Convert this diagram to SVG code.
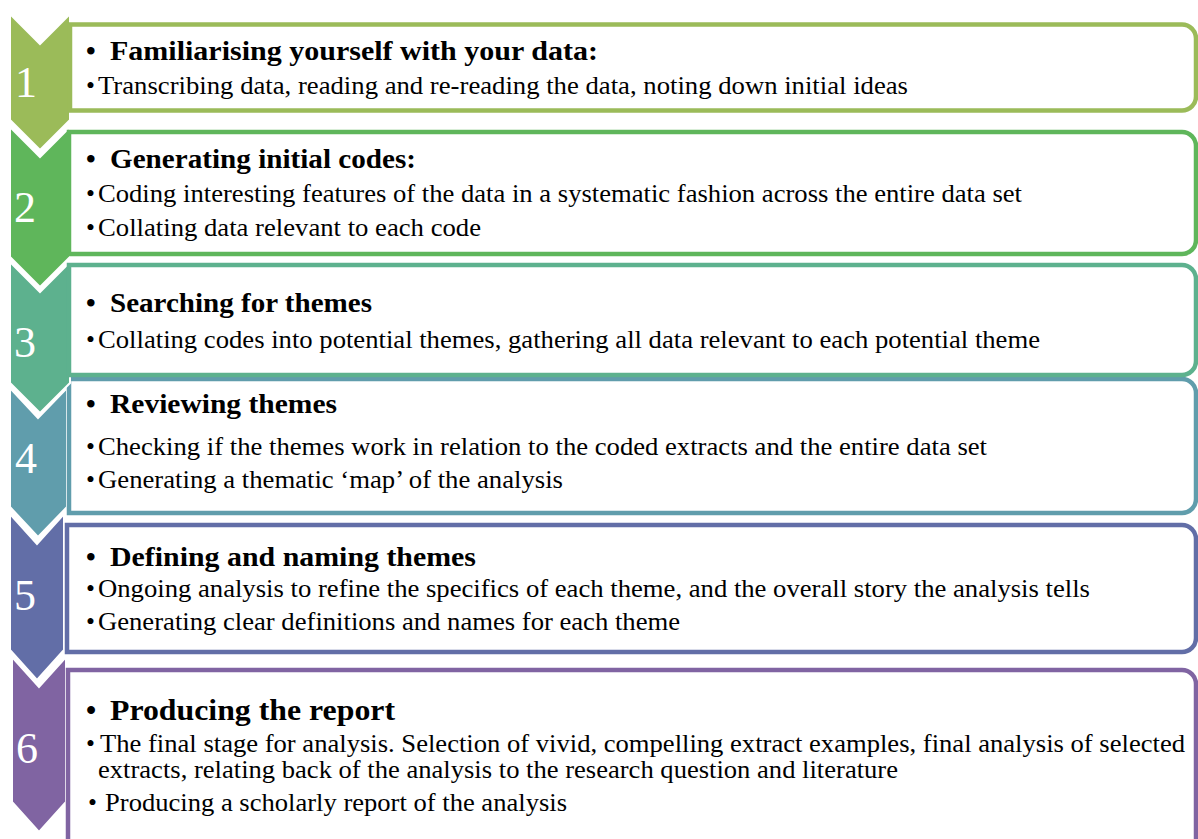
<svg xmlns="http://www.w3.org/2000/svg" width="1198" height="839" viewBox="0 0 1198 839">
  <style>
    .chev { stroke: #ffffff; stroke-width: 2; stroke-linejoin: miter; }
    .box { fill: #ffffff; stroke-width: 4.5; }
    .num { font-family: "Liberation Serif", "Times New Roman", serif; font-size: 44px; fill: #ffffff; text-anchor: middle; }
    .hd { font-family: "Liberation Serif", "Times New Roman", serif; font-size: 27.5px; font-weight: bold; fill: #000000; }
    .hd6 { font-size: 29px; }
    .bd { font-family: "Liberation Serif", "Times New Roman", serif; font-size: 25.5px; fill: #000000; }
    .c1 { fill: #9BBB59; } .s1 { stroke: #9BBB59; }
    .c2 { fill: #5FB65B; } .s2 { stroke: #5FB65B; }
    .c3 { fill: #5DB18E; } .s3 { stroke: #5DB18E; }
    .c4 { fill: #609DAC; } .s4 { stroke: #609DAC; }
    .c5 { fill: #626EA7; } .s5 { stroke: #626EA7; }
    .c6 { fill: #8064A2; } .s6 { stroke: #8064A2; }
  </style>

  <!-- Step 6 (drawn first so earlier chevrons sit on top) -->
  <g id="step6">
    <path class="chev c6" d="M12,657 L39,687 L66,657 L66,802 L39,832 L12,802 Z"/>
    <path class="box s6" d="M68,670 H1182 A14,14 0 0 1 1196,684 V870 H68 Z"/>
    <text class="num" x="27" y="763">6</text>
    <text class="hd hd6" x="86" y="720">•</text>
    <text class="hd hd6" x="110" y="720" textLength="285" lengthAdjust="spacingAndGlyphs">Producing the report</text>
    <text class="bd" x="86" y="752">•</text>
    <text class="bd" x="100" y="752" textLength="1085" lengthAdjust="spacingAndGlyphs">The final stage for analysis. Selection of vivid, compelling extract examples, final analysis of selected</text>
    <text class="bd" x="98" y="778" textLength="800" lengthAdjust="spacingAndGlyphs">extracts, relating back of the analysis to the research question and literature</text>
    <text class="bd" x="88" y="811">•</text>
    <text class="bd" x="105" y="811" textLength="462" lengthAdjust="spacingAndGlyphs">Producing a scholarly report of the analysis</text>
  </g>

  <g id="step5">
    <path class="chev c5" d="M10,514 L37,544 L64,514 L64,650 L37,680 L10,650 Z"/>
    <path class="box s5" d="M67,525 H1182 A14,14 0 0 1 1196,539 V638 A14,14 0 0 1 1182,652 H67 Z"/>
    <text class="num" x="25" y="610">5</text>
    <text class="hd" x="86" y="566">•</text>
    <text class="hd" x="110" y="566" textLength="366" lengthAdjust="spacingAndGlyphs">Defining and naming themes</text>
    <text class="bd" x="86" y="597">•</text>
    <text class="bd" x="98" y="597" textLength="992" lengthAdjust="spacingAndGlyphs">Ongoing analysis to refine the specifics of each theme, and the overall story the analysis tells</text>
    <text class="bd" x="86" y="630">•</text>
    <text class="bd" x="98" y="630" textLength="582" lengthAdjust="spacingAndGlyphs">Generating clear definitions and names for each theme</text>
  </g>

  <g id="step4">
    <path class="chev c4" d="M10,388 L38,418 L67,388 L67,507 L38,537 L10,507 Z"/>
    <path class="box s4" d="M69,379 H1182 A14,14 0 0 1 1196,393 V499 A14,14 0 0 1 1182,513 H69 Z"/>
    <text class="num" x="26" y="473">4</text>
    <text class="hd" x="86" y="413">•</text>
    <text class="hd" x="110" y="413" textLength="227" lengthAdjust="spacingAndGlyphs">Reviewing themes</text>
    <text class="bd" x="86" y="455">•</text>
    <text class="bd" x="98" y="455" textLength="889" lengthAdjust="spacingAndGlyphs">Checking if the themes work in relation to the coded extracts and the entire data set</text>
    <text class="bd" x="86" y="488">•</text>
    <text class="bd" x="98" y="488" textLength="465" lengthAdjust="spacingAndGlyphs">Generating a thematic ‘map’ of the analysis</text>
  </g>

  <g id="step3">
    <path class="chev c3" d="M10,262 L40,292 L70,262 L70,383 L40,413 L10,383 Z"/>
    <path class="box s3" d="M69,265 H1182 A14,14 0 0 1 1196,279 V361 A14,14 0 0 1 1182,375 H69 Z"/>
    <text class="num" x="25" y="357">3</text>
    <text class="hd" x="86" y="312">•</text>
    <text class="hd" x="110" y="312" textLength="262" lengthAdjust="spacingAndGlyphs">Searching for themes</text>
    <text class="bd" x="86" y="348">•</text>
    <text class="bd" x="98" y="348" textLength="942" lengthAdjust="spacingAndGlyphs">Collating codes into potential themes, gathering all data relevant to each potential theme</text>
  </g>

  <g id="step2">
    <path class="chev c2" d="M10,127 L40,157 L70,127 L70,257 L40,287 L10,257 Z"/>
    <path class="box s2" d="M69,132 H1182 A14,14 0 0 1 1196,146 V240 A14,14 0 0 1 1182,254 H69 Z"/>
    <text class="num" x="25" y="222">2</text>
    <text class="hd" x="86" y="168">•</text>
    <text class="hd" x="110" y="168" textLength="306" lengthAdjust="spacingAndGlyphs">Generating initial codes:</text>
    <text class="bd" x="86" y="202">•</text>
    <text class="bd" x="98" y="202" textLength="924" lengthAdjust="spacingAndGlyphs">Coding interesting features of the data in a systematic fashion across the entire data set</text>
    <text class="bd" x="86" y="236">•</text>
    <text class="bd" x="98" y="236" textLength="383" lengthAdjust="spacingAndGlyphs">Collating data relevant to each code</text>
  </g>

  <g id="step1">
    <path class="chev c1" d="M10,14 L40,44 L70,14 L70,120 L40,150 L10,120 Z"/>
    <path class="box s1" d="M70,24.5 H1182 A14,14 0 0 1 1196,38.5 V96.5 A14,14 0 0 1 1182,110.5 H70 Z"/>
    <text class="num" x="26" y="97">1</text>
    <text class="hd" x="86" y="60">•</text>
    <text class="hd" x="110" y="60" textLength="488" lengthAdjust="spacingAndGlyphs">Familiarising yourself with your data:</text>
    <text class="bd" x="86" y="94">•</text>
    <text class="bd" x="98" y="94" textLength="810" lengthAdjust="spacingAndGlyphs">Transcribing data, reading and re-reading the data, noting down initial ideas</text>
  </g>
</svg>
